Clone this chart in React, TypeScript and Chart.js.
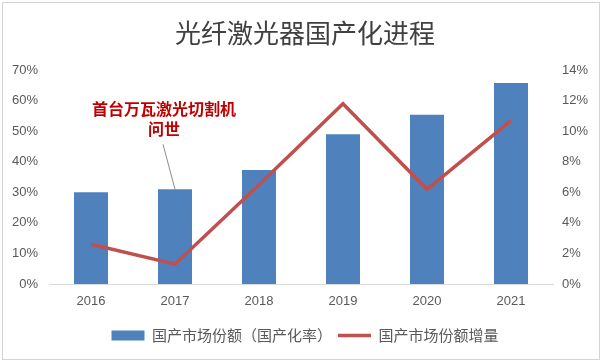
import { useEffect, useRef } from "react";
import { Chart, registerables } from "chart.js";

Chart.register(...registerables);

const titleText = "光纤激光器国产化进程";
const categories = ["2016", "2017", "2018", "2019", "2020", "2021"];
const shareLabel = "国产市场份额（国产化率）";
const shareValues = [30, 31, 37.3, 49, 55.4, 65.8];
const growthLabel = "国产市场份额增量";
const growthValues = [2.6, 1.3, 6.5, 11.8, 6.2, 10.7];
const leftAxisMax = 70;
const leftAxisStep = 10;
const rightAxisMax = 14;
const rightAxisStep = 2;
const annotationLines = ["首台万瓦激光切割机", "问世"];
const annotationIndex = 1;

const FONT = "'Liberation Sans', 'Noto Sans CJK SC', sans-serif";

const extrasPlugin = {
  id: "extras",
  beforeDraw(chart: any) {
    const ctx = chart.ctx;
    ctx.save();
    ctx.fillStyle = "#ffffff";
    ctx.fillRect(0, 0, chart.width, chart.height);
    ctx.strokeStyle = "#d4d4d4";
    ctx.lineWidth = 1;
    ctx.strokeRect(2.5, 2.5, chart.width - 5, chart.height - 5);
    ctx.restore();
  },
  afterDatasetsDraw(chart: any) {
    const ctx = chart.ctx;
    const x = chart.scales.x.getPixelForValue(annotationIndex);
    const y = chart.scales.y.getPixelForValue(shareValues[annotationIndex]);
    ctx.save();
    ctx.strokeStyle = "#8c8c8c";
    ctx.lineWidth = 1;
    ctx.beginPath();
    ctx.moveTo(x, y);
    ctx.lineTo(x - 12, y - 45);
    ctx.stroke();
    ctx.fillStyle = "#c00000";
    ctx.font = "bold 16px 'Noto Sans CJK SC', sans-serif";
    ctx.textAlign = "center";
    ctx.textBaseline = "middle";
    annotationLines.forEach((line, i) => {
      ctx.fillText(line, x - 11, y - 80 + i * 20);
    });
    ctx.restore();
  },
};

export default function App() {
  const ref = useRef<HTMLCanvasElement | null>(null);

  useEffect(() => {
    document.body.style.margin = "0";
    const canvas = ref.current;
    if (!canvas) return;
    Chart.defaults.font.family = FONT;
    Chart.defaults.color = "#595959";
    const chart = new Chart(canvas, {
      type: "bar",
      data: {
        labels: categories,
        datasets: [
          {
            type: "bar",
            label: shareLabel,
            data: shareValues,
            backgroundColor: "#4f81bd",
            borderWidth: 0,
            yAxisID: "y",
            order: 1,
            categoryPercentage: 1,
            barPercentage: 0.405,
            pointStyle: "rect",
          } as any,
          {
            type: "line",
            label: growthLabel,
            data: growthValues,
            borderColor: "#c0504d",
            backgroundColor: "#c0504d",
            borderWidth: 3.5,
            pointRadius: 0,
            tension: 0,
            yAxisID: "y1",
            order: 0,
            pointStyle: "line",
          } as any,
        ],
      },
      options: {
        responsive: false,
        animation: false,
        devicePixelRatio: 1,
        layout: { padding: { left: 8, right: 0, top: 3, bottom: 9 } },
        plugins: {
          title: {
            display: true,
            text: titleText,
            color: "#404040",
            font: { size: 26, weight: "normal", family: "'Noto Sans CJK SC', serif" },
            padding: { top: 15, bottom: 21 },
          },
          legend: {
            position: "bottom",
            labels: {
              usePointStyle: true,
              pointStyleWidth: 33,
              boxHeight: 10,
              padding: 6,
              color: "#595959",
              font: { size: 15, family: "'Noto Sans CJK SC', sans-serif" },
              sort: (a: any, b: any) => a.datasetIndex - b.datasetIndex,
            },
          },
          tooltip: { enabled: false },
        },
        scales: {
          x: {
            grid: { display: false, drawTicks: false },
            border: { display: true, color: "#d9d9d9" },
            ticks: { padding: 10, font: { size: 13 }, color: "#595959" },
            afterFit: (s: any) => {
              s.height = 38;
            },
          },
          y: {
            position: "left",
            min: 0,
            max: leftAxisMax,
            grid: { display: false, drawTicks: false },
            border: { display: false },
            ticks: {
              stepSize: leftAxisStep,
              padding: 11,
              font: { size: 13 },
              color: "#595959",
              callback: (v: any) => `${v}%`,
            },
            afterFit: (s: any) => {
              s.width = 41;
            },
          },
          y1: {
            position: "right",
            min: 0,
            max: rightAxisMax,
            grid: { display: false, drawTicks: false },
            border: { display: false },
            ticks: {
              stepSize: rightAxisStep,
              padding: 9,
              font: { size: 13 },
              color: "#595959",
              callback: (v: any) => `${v}%`,
            },
            afterFit: (s: any) => {
              s.width = 49;
            },
          },
        },
      } as any,
      plugins: [extrasPlugin],
    });
    return () => chart.destroy();
  }, []);

  return <canvas ref={ref} width={602} height={362} style={{ display: "block" }} />;
}
